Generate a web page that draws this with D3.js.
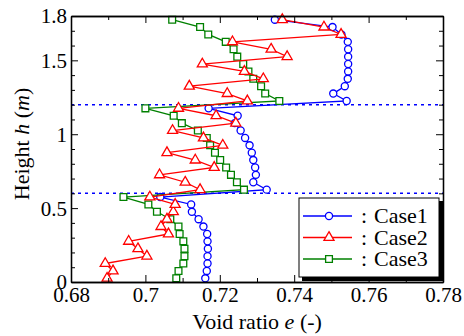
<!DOCTYPE html>
<html>
<head>
<meta charset="utf-8">
<script src="https://cdn.jsdelivr.net/npm/d3@7"></script>
<style>
    body { margin: 0; background: #fff; }
    svg { display: block; font-family: "Liberation Serif", "Times New Roman", serif; }
</style>
</head>
<body>
<div id="chart"></div>
<script>
// heights of the element centres (m), bottom to top
const heights = [0.025, 0.075, 0.125, 0.175, 0.225, 0.275, 0.325, 0.375, 0.425, 0.475, 0.525, 0.575,
    0.625, 0.675, 0.725, 0.775, 0.825, 0.875, 0.925, 0.975, 1.025, 1.075, 1.125, 1.175,
    1.225, 1.275, 1.325, 1.375, 1.425, 1.475, 1.525, 1.575, 1.625, 1.675, 1.725, 1.775];

const case1 = [0.7161, 0.7165, 0.7167, 0.7167, 0.7168, 0.7167, 0.7166, 0.7156, 0.7143, 0.7125, 0.7123, 0.7040,
    0.7326, 0.7290, 0.7297, 0.7295, 0.7290, 0.7286, 0.7280, 0.7268, 0.7256, 0.7240, 0.7248, 0.7170,
    0.7541, 0.7505, 0.7536, 0.7544, 0.7545, 0.7545, 0.7545, 0.7545, 0.7544, 0.7527, 0.7503, 0.7348];

const case2 = [0.6897, 0.6913, 0.6892, 0.7004, 0.6980, 0.6955, 0.7062, 0.7042, 0.7058, 0.7075, 0.7080, 0.7012,
    0.7147, 0.7107, 0.7038, 0.7185, 0.7134, 0.7058, 0.7208, 0.7156, 0.7073, 0.7243, 0.7190, 0.7089,
    0.7274, 0.7220, 0.7118, 0.7317, 0.7266, 0.7153, 0.7381, 0.7338, 0.7234, 0.7526, 0.7480, 0.7368];

const case3 = [0.7083, 0.7089, 0.7102, 0.7105, 0.7105, 0.7102, 0.7092, 0.7089, 0.7067, 0.7031, 0.7008, 0.6941,
    0.7265, 0.7246, 0.7230, 0.7217, 0.7201, 0.7187, 0.7174, 0.7165, 0.7141, 0.7098, 0.7076, 0.7000,
    0.7360, 0.7322, 0.7311, 0.7290, 0.7277, 0.7263, 0.7247, 0.7237, 0.7216, 0.7169, 0.7147, 0.7072];

const layerBounds = [0.6, 1.2];

const xTicks = [0.68, 0.7, 0.72, 0.74, 0.76, 0.78];
const xMinor = [0.69, 0.71, 0.73, 0.75, 0.77];
const yTicks = [0, 0.5, 1, 1.5, 1.8];
const yMinor = [0.1, 0.2, 0.3, 0.4, 0.6, 0.7, 0.8, 0.9, 1.1, 1.2, 1.3, 1.4, 1.6, 1.7];

const seriesNames = ['Case1', 'Case2', 'Case3'];

const W = 464, H = 336;
const margin = {top: 16, right: 21, bottom: 54, left: 71};
const width = W - margin.left - margin.right,
    height = H - margin.top - margin.bottom;
const serif = '"Liberation Serif", "Times New Roman", serif';

const svg = d3.select('#chart').append('svg')
    .attr('width', W)
    .attr('height', H);

const x = d3.scaleLinear().domain([0.68, 0.78]).range([0, width]);
const y = d3.scaleLinear().domain([0, 1.8]).range([height, 0]);

const g = svg.append('g')
    .attr('transform', `translate(${margin.left},${margin.top})`);

// layer boundaries
g.selectAll('.bound')
    .data(layerBounds)
    .enter().append('line')
    .attr('x1', 0).attr('x2', width)
    .attr('y1', d => y(d)).attr('y2', d => y(d))
    .attr('stroke', '#0000ff')
    .attr('stroke-width', 1.5)
    .attr('stroke-dasharray', '3,4');

const series = [
    {name: seriesNames[0], values: case1, color: '#0000ff', marker: 'circle'},
    {name: seriesNames[2], values: case3, color: '#008000', marker: 'square'},
    {name: seriesNames[1], values: case2, color: '#ff0000', marker: 'triangle'}
];

const line = d3.line()
    .x(d => x(d[0]))
    .y(d => y(d[1]));

const symbolFor = {
    circle: d3.symbol().type(d3.symbolCircle).size(40),
    square: d3.symbol().type(d3.symbolSquare).size(46),
    triangle: d3.symbol().type(d3.symbolTriangle).size(44)
};

series.forEach(s => {
    const pts = s.values.map((v, i) => [v, heights[i]]);
    g.append('path')
        .datum(pts)
        .attr('fill', 'none')
        .attr('stroke', s.color)
        .attr('stroke-width', 1.3)
        .attr('d', line);
    g.selectAll('.m-' + s.marker)
        .data(pts)
        .enter().append('path')
        .attr('class', 'm-' + s.marker)
        .attr('transform', d => `translate(${x(d[0])},${y(d[1])})`)
        .attr('d', symbolFor[s.marker]())
        .attr('fill', '#fff')
        .attr('stroke', s.color)
        .attr('stroke-width', 1.3);
});

// axes: ticks inside, mirrored on top and right
const fmt = d => String(+d.toFixed(2));

const axB = g.append('g').attr('transform', `translate(0,${height})`)
    .call(d3.axisBottom(x).tickValues(xTicks).tickSizeInner(-7).tickSizeOuter(0).tickPadding(4).tickFormat(fmt));
g.append('g').attr('transform', `translate(0,${height})`)
    .call(d3.axisBottom(x).tickValues(xMinor).tickSizeInner(-4).tickSizeOuter(0).tickFormat(''));
g.append('g')
    .call(d3.axisTop(x).tickValues(xTicks).tickSizeInner(-7).tickSizeOuter(0).tickFormat(''));
g.append('g')
    .call(d3.axisTop(x).tickValues(xMinor).tickSizeInner(-4).tickSizeOuter(0).tickFormat(''));

const axL = g.append('g')
    .call(d3.axisLeft(y).tickValues(yTicks).tickSizeInner(-7).tickSizeOuter(0).tickPadding(4).tickFormat(fmt));
g.append('g')
    .call(d3.axisLeft(y).tickValues(yMinor).tickSizeInner(-4).tickSizeOuter(0).tickFormat(''));
g.append('g').attr('transform', `translate(${width},0)`)
    .call(d3.axisRight(y).tickValues(yTicks).tickSizeInner(-7).tickSizeOuter(0).tickFormat(''));
g.append('g').attr('transform', `translate(${width},0)`)
    .call(d3.axisRight(y).tickValues(yMinor).tickSizeInner(-4).tickSizeOuter(0).tickFormat(''));

g.selectAll('.domain').attr('stroke', '#000').attr('stroke-width', 1.3);
g.selectAll('.tick line').attr('stroke', '#000').attr('stroke-width', 1);
g.selectAll('.tick text')
    .attr('fill', '#000')
    .style('font-family', serif)
    .style('font-size', '21px');
axL.selectAll('.tick text').attr('dy', '0.33em');
axB.selectAll('.tick text').attr('dy', '0.78em');

// axis titles
const xt = svg.append('text')
    .attr('x', margin.left + width / 2)
    .attr('y', 329)
    .attr('text-anchor', 'middle')
    .style('font-family', serif)
    .style('font-size', '22px');
xt.append('tspan').text('Void ratio ');
xt.append('tspan').style('font-style', 'italic').text('e');
xt.append('tspan').text(' (-)');

const yt = svg.append('text')
    .attr('transform', `translate(29,${margin.top + height / 2 - 5}) rotate(-90)`)
    .attr('text-anchor', 'middle')
    .style('font-family', serif)
    .style('font-size', '22px');
yt.append('tspan').text('Height ');
yt.append('tspan').style('font-style', 'italic').text('h');
yt.append('tspan').text(' (');
yt.append('tspan').style('font-style', 'italic').text('m');
yt.append('tspan').text(')');

// legend
const lg = svg.append('g').attr('transform', 'translate(299,198)');
lg.append('rect')
    .attr('x', 3).attr('y', 3).attr('width', 141).attr('height', 80)
    .attr('fill', '#000');
lg.append('rect')
    .attr('x', 0).attr('y', 0).attr('width', 140).attr('height', 79)
    .attr('fill', '#fff').attr('stroke', '#000').attr('stroke-width', 1);

const legendItems = [
    {name: seriesNames[0], color: '#0000ff', marker: 'circle'},
    {name: seriesNames[1], color: '#ff0000', marker: 'triangle'},
    {name: seriesNames[2], color: '#008000', marker: 'square'}
];
legendItems.forEach((d, i) => {
    const yy = 18 + i * 21.5;
    lg.append('line')
        .attr('x1', 4).attr('x2', 53).attr('y1', yy).attr('y2', yy)
        .attr('stroke', d.color).attr('stroke-width', 1.3);
    lg.append('path')
        .attr('transform', `translate(30,${yy})`)
        .attr('d', symbolFor[d.marker]())
        .attr('fill', '#fff').attr('stroke', d.color).attr('stroke-width', 1.3);
    lg.append('text')
        .attr('x', 62).attr('y', yy + 7)
        .style('font-family', serif)
        .style('font-size', '22px')
        .text(':');
    lg.append('text')
        .attr('x', 75).attr('y', yy + 7)
        .style('font-family', serif)
        .style('font-size', '22px')
        .text(d.name);
});
</script>
</body>
</html>
